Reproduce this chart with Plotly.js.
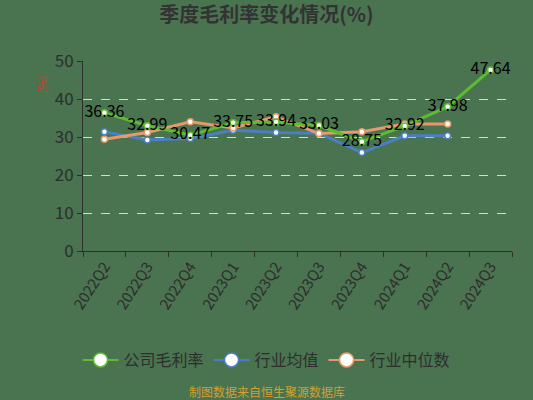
<!DOCTYPE html>
<html>
<head>
<meta charset="utf-8">
<script src="https://cdn.plot.ly/plotly-3.0.1.min.js"></script>
<style>
  body { margin: 0; background: #4a7350; }
  #chart { width: 533px; height: 400px; }
</style>
</head>
<body>
<div id="chart"></div>
<script>
// quarters on the x axis
var quarters = ['2022Q2', '2022Q3', '2022Q4', '2023Q1', '2023Q2', '2023Q3', '2023Q4', '2024Q1', '2024Q2', '2024Q3'];

// gross margin, %
var companyMargin = [36.36, 32.99, 30.47, 33.75, 33.94, 33.03, 28.75, 32.92, 37.98, 47.64];
var industryMean = [31.4, 29.2, 29.6, 31.8, 31.2, 31.0, 25.9, 30.3, 30.3, null];
var industryMedian = [29.4, 31.2, 34.0, 32.4, 35.3, 30.9, 31.4, 33.4, 33.4, null];

var seriesNames = ['公司毛利率', '行业均值', '行业中位数'];

var font = '"Noto Sans CJK SC", "Noto Sans", sans-serif';
var bg = '#4a7350';
var ink = '#2e2e2e';

function lineTrace(y, name, color, withText) {
  var t = {
    x: quarters,
    y: y,
    name: name,
    type: 'scatter',
    mode: withText ? 'lines+markers+text' : 'lines+markers',
    line: { color: color, width: 3 },
    marker: { size: 6, color: '#ffffff', line: { color: color, width: 1.5 } },
    showlegend: false,
    hoverinfo: 'x+y'
  };
  if (withText) {
    t.text = y.map(function(v) { return v.toFixed(2); });
    t.textposition = 'middle center';
    t.textfont = { family: font, size: 16, color: '#000000' };
    t.cliponaxis = false;
  }
  return t;
}

// legend-only entries so the legend circles are drawn bigger than the point markers
function legendTrace(name, color) {
  return {
    x: [null], y: [null],
    name: name,
    type: 'scatter',
    mode: 'lines+markers',
    line: { color: color, width: 2 },
    marker: { size: 14, color: '#ffffff', line: { color: color, width: 1.5 } },
    hoverinfo: 'skip'
  };
}

var data = [
  lineTrace(industryMean, seriesNames[1], '#4a7fc1', false),
  lineTrace(industryMedian, seriesNames[2], '#e49a6a', false),
  lineTrace(companyMargin, seriesNames[0], '#5cbd2e', true),
  legendTrace(seriesNames[0], '#5cbd2e'),
  legendTrace(seriesNames[1], '#4a7fc1'),
  legendTrace(seriesNames[2], '#e49a6a')
];

var layout = {
  width: 533,
  height: 400,
  paper_bgcolor: bg,
  plot_bgcolor: bg,
  font: { family: font, color: ink },
  margin: { l: 83, r: 21, t: 61, b: 149, pad: 0 },
  title: {
    text: '<b>季度毛利率变化情况(%)</b>',
    font: { family: font, size: 20, color: '#333333' },
    x: 0.5, xref: 'container',
    y: 1 - 15 / 400, yref: 'container', yanchor: 'middle'
  },
  xaxis: {
    type: 'category',
    range: [-0.5, 9.5],
    tickson: 'boundaries',
    ticks: 'outside',
    ticklen: 5,
    tickcolor: ink,
    showline: true,
    linecolor: ink,
    linewidth: 1,
    showgrid: false,
    tickangle: -57,
    tickfont: { family: font, size: 15, color: ink },
    fixedrange: true
  },
  yaxis: {
    range: [0, 50],
    dtick: 10,
    ticks: 'outside',
    ticklen: 5,
    tickcolor: ink,
    showline: true,
    linecolor: ink,
    linewidth: 1,
    showgrid: true,
    gridcolor: 'rgba(255,255,255,0.75)',
    griddash: 'dash',
    gridwidth: 1,
    zeroline: false,
    tickfont: { family: font, size: 17, color: ink },
    fixedrange: true
  },
  legend: {
    orientation: 'h',
    xref: 'container', yref: 'container',
    x: 0.5, xanchor: 'center',
    y: 1 - 360 / 400, yanchor: 'middle',
    font: { family: font, size: 16, color: ink },
    bgcolor: 'rgba(0,0,0,0)',
    itemwidth: 36,
    traceorder: 'normal'
  },
  annotations: [{
    // unit label sits near the top of the y axis
    text: '(%)',
    xref: 'paper', yref: 'paper',
    x: (41 - 83) / 429, y: (251 - 84) / 190,
    xanchor: 'center', yanchor: 'middle',
    textangle: -90,
    showarrow: false,
    font: { family: font, size: 11, color: '#e0302a' }
  }, {
    text: '制图数据来自恒生聚源数据库',
    xref: 'paper', yref: 'paper',
    x: 0.43, y: (251 - 391) / 190,
    xanchor: 'center', yanchor: 'middle',
    showarrow: false,
    font: { family: font, size: 12, color: '#d4a030' }
  }]
};

Plotly.newPlot('chart', data, layout, { displayModeBar: false, staticPlot: true });
</script>
</body>
</html>
